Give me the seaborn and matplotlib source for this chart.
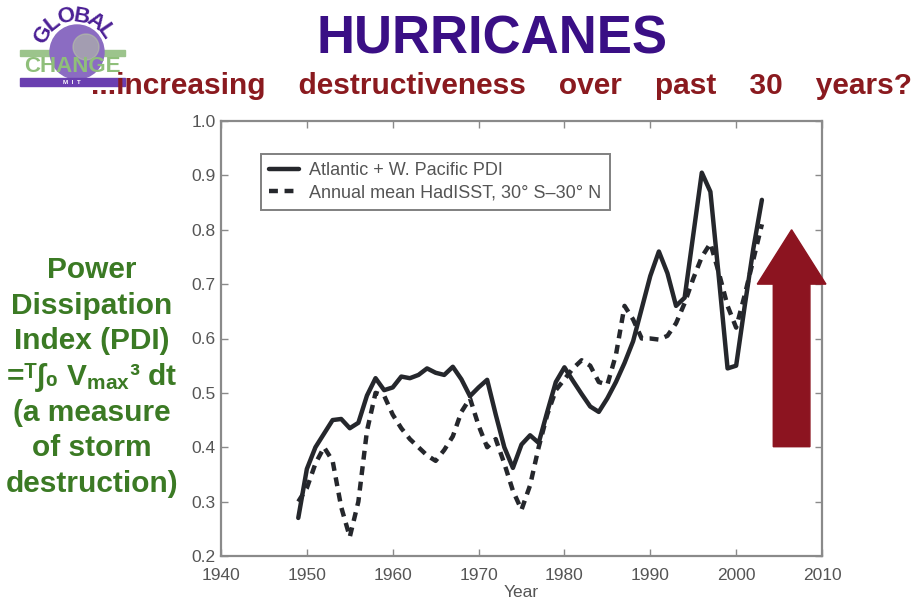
import numpy as np
import pandas as pd
import matplotlib
import matplotlib.pyplot as plt
from matplotlib.patches import Circle, Rectangle
import seaborn as sns

# ========== data ==========
years = list(range(1949, 2004))

pdi = [0.27, 0.36, 0.40, 0.425, 0.45, 0.452, 0.435, 0.445, 0.495, 0.527,
       0.505, 0.51, 0.53, 0.527, 0.533, 0.545, 0.537, 0.533, 0.548, 0.525,
       0.494, 0.51, 0.524, 0.46, 0.40, 0.362, 0.405, 0.422, 0.408, 0.465,
       0.52, 0.547, 0.522, 0.498, 0.475, 0.465, 0.49, 0.52, 0.555, 0.595,
       0.655, 0.715, 0.76, 0.72, 0.66, 0.675, 0.79, 0.905, 0.87, 0.71,
       0.545, 0.55, 0.66, 0.765, 0.855]

sst = [0.30, 0.325, 0.37, 0.40, 0.375, 0.29, 0.235, 0.30, 0.43, 0.50,
       0.495, 0.46, 0.435, 0.415, 0.40, 0.385, 0.375, 0.395, 0.42, 0.465,
       0.49, 0.44, 0.40, 0.415, 0.37, 0.32, 0.285, 0.33, 0.40, 0.46,
       0.505, 0.525, 0.545, 0.56, 0.55, 0.52, 0.515, 0.57, 0.66, 0.635,
       0.60, 0.60, 0.598, 0.605, 0.628, 0.665, 0.71, 0.75, 0.775, 0.72,
       0.66, 0.62, 0.68, 0.745, 0.81]

pdi_label = 'Atlantic + W. Pacific PDI'
sst_label = 'Annual mean HadISST, 30\u00b0 S\u201330\u00b0 N'

x_ticks = [1940, 1950, 1960, 1970, 1980, 1990, 2000, 2010]
y_ticks = [0.2, 0.3, 0.4, 0.5, 0.6, 0.7, 0.8, 0.9, 1.0]

left_lines = ['Power', 'Dissipation', 'Index (PDI)',
              '=\u1d40\u222b\u2080 V$_{max}$\u00b3 dt',
              '(a measure', 'of storm', 'destruction)']

df = pd.DataFrame({'Year': years, 'PDI': pdi, 'SST': sst})

# ========== style ==========
sns.set_style("ticks")
plt.rcParams['font.family'] = ['Liberation Sans', 'DejaVu Sans']
plt.rcParams['mathtext.fontset'] = 'custom'
plt.rcParams['mathtext.rm'] = 'Liberation Sans:bold'
plt.rcParams['mathtext.it'] = 'Liberation Sans:bold'
plt.rcParams['mathtext.bf'] = 'Liberation Sans:bold'

frame_col = '#8a8a8a'
tick_col = '#555555'
line_col = '#25272c'

fig = plt.figure(figsize=(9.23, 6.03), dpi=100)
ax = fig.add_axes([221 / 923, 1 - 556 / 603, 601 / 923, 435 / 603])

sns.lineplot(data=df, x='Year', y='PDI', ax=ax, color=line_col, lw=3.2,
             label=pdi_label)
sns.lineplot(data=df, x='Year', y='SST', ax=ax, color=line_col, lw=3.2,
             label=sst_label)
ax.lines[1].set_dashes((2.0, 1.5))

ax.set_xlim(1940, 2010)
ax.set_ylim(0.2, 1.0)
ax.set_xticks(x_ticks)
ax.set_yticks(y_ticks)
ax.set_yticklabels([f'{v:.1f}' for v in y_ticks])
ax.tick_params(direction='in', length=5, width=1, colors=frame_col,
               labelcolor=tick_col, labelsize=12.5, top=True, right=True,
               labeltop=False, labelright=False)
ax.tick_params(axis='x', pad=9)
ax.tick_params(axis='y', pad=4)
for s in ax.spines.values():
    s.set_color(frame_col)
    s.set_linewidth(1.6)
ax.set_xlabel('Year', color=tick_col, fontsize=12.5, labelpad=1)
ax.set_ylabel('')

leg = ax.legend(loc='upper left', bbox_to_anchor=(0.066, 0.924),
                borderaxespad=0, fontsize=13, frameon=True, fancybox=False,
                handlelength=1.7, handletextpad=0.55, borderpad=0.45,
                labelspacing=0.3, edgecolor='#606060')
leg.get_frame().set_linewidth(1.4)
for t in leg.get_texts():
    t.set_color(tick_col)

# red arrow (annotation)
ax.arrow(2006.46, 0.401, 0, 0.399, width=4.27, head_width=8.0,
         head_length=0.10, length_includes_head=True, color='#8c1420',
         clip_on=False, zorder=5)

# ========== titles ==========
fig.text(0.533, 0.935, 'HURRICANES', ha='center', va='center',
         fontsize=38, fontweight='bold', color='#3a0f85')
fig.text(0.5434, 0.857, '...increasing    destructiveness    over    past    30    years?',
         ha='center', va='center', fontsize=21.5, fontweight='bold',
         color='#8a1a1f')

# left green text
for i, line in enumerate(left_lines):
    fig.text(92 / 923, 1 - (270 + i * 35.7) / 603, line, ha='center',
             va='center', fontsize=21.5, fontweight='bold', color='#3b7a24',
             family=['Liberation Sans', 'DejaVu Sans'])

# ========== logo ==========
lax = fig.add_axes([0, 1 - 95 / 603, 140 / 923, 95 / 603])
lax.set_xlim(0, 140)
lax.set_ylim(95, 0)
lax.axis('off')
lax.add_patch(Circle((77, 52), 27, color='#8b6cc2', zorder=2))
lax.add_patch(Circle((86, 47), 13, color='#b8c7a4', alpha=0.55, zorder=3))
lax.add_patch(Rectangle((20, 50), 30, 6, color='#9cc48c', zorder=1))
lax.add_patch(Rectangle((97, 50), 28, 6, color='#9cc48c', zorder=1))
lax.add_patch(Rectangle((20, 78), 105, 8, color='#6a3fb0', zorder=4))
lax.text(72, 82, 'M  I  T', ha='center', va='center', color='white',
         fontsize=4.5, fontweight='bold', zorder=5)
lax.text(72, 67, 'CHANGE', ha='center', va='center', color='#8fbf7a',
         fontsize=16, fontweight='bold', zorder=5)
for ch, ang in zip('GLOBAL', [62, 38, 14, -10, -34, -56]):
    r = np.deg2rad(90 + ang)
    cx, cy = 75 + 36 * np.cos(r), 52 - 36 * np.sin(r)
    lax.text(cx, cy, ch, ha='center', va='center', rotation=ang,
             color='#4b1f95', fontsize=16, fontweight='bold', zorder=5)

plt.savefig('out.png', dpi=100)
